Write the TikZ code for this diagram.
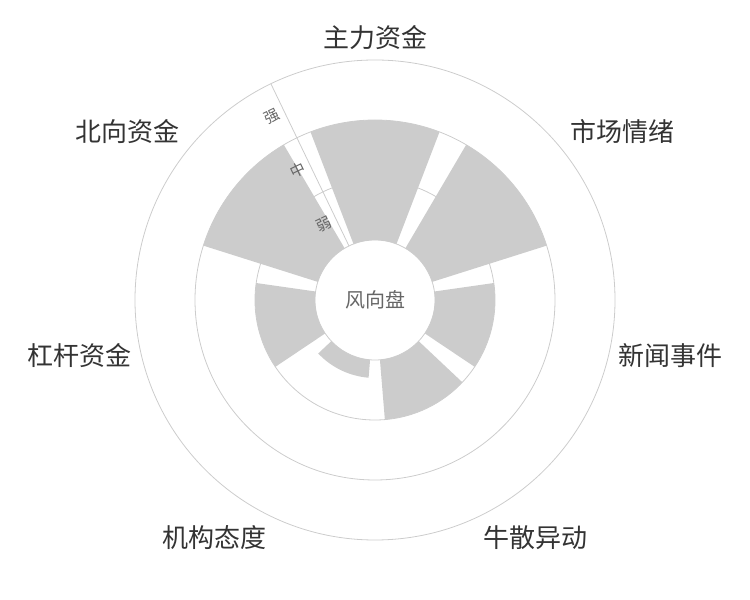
\documentclass[tikz,border=0pt]{standalone}
\usepackage{fontspec}
\newfontfamily\cjk{Noto Sans CJK SC}
\usepackage{tikz}
\usetikzlibrary{positioning}
\definecolor{barfill}{HTML}{CCCCCC}
\definecolor{gridline}{HTML}{CCCCCC}
\definecolor{labeltext}{HTML}{333333}
\definecolor{axistext}{HTML}{666666}

\begin{document}
\begin{tikzpicture}[x=1pt,
                    y=1pt,
                    grid/.style={draw=gridline, line width=0.8pt},
                    bar/.style={fill=barfill},
                    dim/.style={font=\cjk\fontsize{26}{26}\selectfont, text=labeltext, inner sep=0pt},
                    lvl/.style={font=\cjk\fontsize{15}{15}\selectfont, text=axistext, rotate=25.7, inner sep=0pt}
                    ]
  \useasboundingbox (0,0) rectangle (750,600);
  \coordinate (c) at (375,300);
  % rings
  \foreach \r in {60,120,180,240}
    \draw[grid] (c) circle[radius=\r];
  % bars
  \foreach \a/\v in {90/180, 38.57/180, -12.86/120, -64.29/120, -115.71/78, -167.14/120, 141.43/180}
    \fill[bar] ([shift={(\a-21:60)}]c) arc[start angle=\a-21, end angle=\a+21, radius=60]
               -- ([shift={(\a+21:\v)}]c) arc[start angle=\a+21, end angle=\a-21, radius=\v] -- cycle;
  % radius axis
  \coordinate (a0) at ([shift={(115.71:60)}]c);
  \coordinate (a1) at ([shift={(115.71:240)}]c);
  \draw[grid] (a0) -- (a1);
  \node[lvl] (weak)   at ([shift={(115.71:90)},shift={(205.71:13)}]c) {弱};
  \node[lvl] (mid)    at ([shift={(115.71:150)},shift={(205.71:13)}]c) {中};
  \node[lvl] (strong) at ([shift={(115.71:210)},shift={(205.71:13)}]c) {强};
  \node[font=\cjk\fontsize{20}{20}\selectfont, text=axistext] (center) at (c) {风向盘};
  % dimension labels
  \node[dim, anchor=south]      (main)  at ([shift={(90:250)}]c)      {主力资金};
  \node[dim, anchor=south west] (mood)  at ([shift={(38.57:250)}]c)   {市场情绪};
  \node[dim, anchor=west]       (news)  at ([shift={(-12.86:250)}]c)  {新闻事件};
  \node[dim, anchor=north west] (star)  at ([shift={(-64.29:250)}]c)  {牛散异动};
  \node[dim, anchor=north east] (inst)  at ([shift={(-115.71:250)}]c) {机构态度};
  \node[dim, anchor=east]       (lever) at ([shift={(-167.14:250)}]c) {杠杆资金};
  \node[dim, anchor=south east] (north) at ([shift={(141.43:250)}]c)  {北向资金};
\end{tikzpicture}
\end{document}
